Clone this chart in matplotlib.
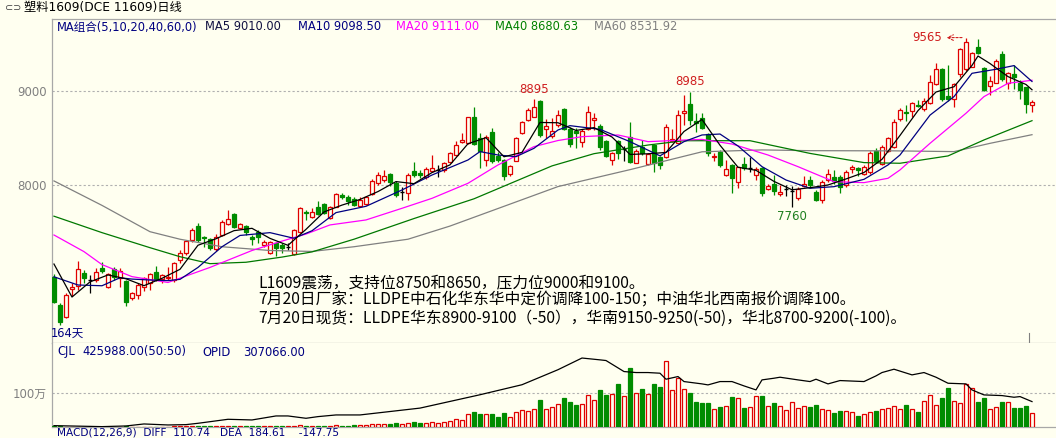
import numpy as np
import matplotlib
matplotlib.use("Agg")
import matplotlib.pyplot as plt
from matplotlib.patches import Rectangle

plt.rcParams['font.family'] = ['DejaVu Sans', 'Noto Sans CJK SC']

# ---------------- COLORS ----------------
BG = '#FFFFF0'
RED = '#E00000'
GREEN = '#008C00'
NAVY = '#000080'
GRAY = '#808080'
AXIS = '#A8A8A8'

# ---------------- DATA ----------------
opens = [7022, 6720, 6589, 6895, 6922, 7057, 6990, 6986, 7110, 6908,
         7100, 7004, 6979, 6791, 6827, 6908, 6951, 7071, 6993, 7004,
         6986, 7199, 7277, 7412, 7560, 7440, 7419, 7312, 7465, 7582,
         7685, 7536, 7560, 7440, 7500, 7358, 7270, 7383, 7358, 7340,
         7263, 7500, 7710, 7653, 7766, 7795, 7642, 7766, 7891, 7873,
         7844, 7773, 7795, 7901, 8015, 8050, 8111, 8022, 7926, 7915,
         8150, 8128, 8079, 8150, 8157, 8157, 8245, 8316, 8454, 8447,
         8717, 8493, 8263, 8564, 8306, 8263, 8114, 8256, 8554, 8689,
         8724, 8894, 8589, 8518, 8635, 8802, 8589, 8575, 8458, 8589,
         8688, 8624, 8468, 8263, 8468, 8376, 8504, 8234, 8404, 8220,
         8422, 8291, 8291, 8461, 8447, 8759, 8858, 8681, 8706, 8539,
         8291, 8351, 8103, 8209, 8032, 8220, 8174, 8103, 8174, 7951,
         8007, 7901, 7950, 7937, 7855, 7986, 8050, 7926, 7837, 8050,
         8086, 8086, 7997, 8164, 8174, 8114, 8139, 8362, 8221, 8362,
         8398, 8696, 8777, 8788, 8852, 8802, 8873, 9072, 9228, 8944,
         8908, 9178, 9228, 9256, 9469, 9238, 9050, 9086, 9391, 9079,
         9178, 9079, 9036, 8848]
highs = [7050, 6740, 6845, 6950, 7190, 7093, 7040, 7110, 7180, 7064,
         7121, 7110, 6990, 6862, 6951, 7014, 7057, 7135, 7050, 7128,
         7181, 7305, 7412, 7536, 7589, 7454, 7430, 7475, 7624, 7731,
         7695, 7596, 7571, 7465, 7518, 7412, 7405, 7394, 7376, 7376,
         7525, 7759, 7730, 7749, 7830, 7802, 7773, 7908, 7915, 7891,
         7866, 7866, 7880, 8057, 8139, 8157, 8121, 8043, 7972, 8128,
         8245, 8157, 8185, 8316, 8210, 8245, 8352, 8469, 8554, 8724,
         8823, 8547, 8529, 8600, 8352, 8277, 8210, 8504, 8681, 8813,
         8908, 8901, 8696, 8706, 8795, 8812, 8610, 8600, 8589, 8837,
         8759, 8646, 8475, 8351, 8475, 8412, 8670, 8376, 8475, 8341,
         8433, 8305, 8646, 8589, 8794, 8954, 8985, 8766, 8766, 8546,
         8334, 8369, 8263, 8220, 8192, 8291, 8291, 8185, 8192, 8007,
         8103, 7997, 7997, 7986, 7972, 8092, 8093, 7944, 8050, 8164,
         8157, 8103, 8157, 8210, 8192, 8210, 8362, 8387, 8423, 8504,
         8696, 8813, 8848, 8884, 8901, 8919, 9167, 9291, 9238, 9273,
         9079, 9451, 9565, 9416, 9547, 9256, 9157, 9334, 9426, 9203,
         9274, 9114, 9043, 8901]
lows = [6740, 6507, 6580, 6820, 6880, 6958, 6845, 6960, 7057, 6898,
        6986, 6908, 6710, 6773, 6780, 6873, 6880, 6979, 6951, 6986,
        6968, 7164, 7252, 7394, 7394, 7341, 7305, 7298, 7454, 7571,
        7536, 7525, 7465, 7358, 7376, 7341, 7263, 7240, 7277, 7305,
        7252, 7490, 7620, 7642, 7678, 7688, 7632, 7759, 7845, 7784,
        7773, 7766, 7784, 7891, 7997, 8033, 7986, 7866, 7838, 7838,
        8086, 8068, 8064, 8139, 8079, 8139, 8235, 8306, 8440, 8433,
        8423, 8174, 8199, 8235, 8245, 8050, 8093, 8249, 8540, 8678,
        8717, 8511, 8493, 8493, 8610, 8582, 8397, 8387, 8397, 8582,
        8582, 8369, 8291, 8209, 8270, 8256, 8234, 8227, 8316, 8209,
        8139, 8163, 8280, 8458, 8440, 8635, 8635, 8564, 8589, 8305,
        8256, 8192, 8093, 7908, 7962, 8156, 8139, 8050, 7880, 7944,
        7890, 7880, 7880, 7766, 7837, 7972, 7979, 7830, 7809, 8032,
        8008, 7915, 7979, 8121, 8093, 8103, 8114, 8235, 8210, 8352,
        8387, 8681, 8681, 8717, 8823, 8788, 8859, 9061, 8894, 8894,
        8823, 9150, 9213, 9249, 9391, 9001, 8954, 9079, 9107, 9015,
        9015, 8908, 8767, 8777]
closes = [6756, 6543, 6827, 6910, 7100, 7004, 6990, 7075, 7085, 7046,
          7022, 7085, 6756, 6851, 6933, 7004, 7050, 6993, 7040, 7022,
          7170, 7277, 7405, 7518, 7412, 7430, 7323, 7440, 7607, 7632,
          7553, 7578, 7500, 7419, 7440, 7394, 7394, 7323, 7323, 7340,
          7518, 7750, 7695, 7713, 7688, 7703, 7759, 7898, 7866, 7830,
          7784, 7837, 7866, 8043, 8103, 8093, 8033, 7891, 7926, 8103,
          8103, 8103, 8164, 8174, 8157, 8228, 8334, 8423, 8476, 8717,
          8433, 8362, 8511, 8256, 8263, 8093, 8199, 8494, 8671, 8795,
          8823, 8529, 8625, 8575, 8742, 8589, 8433, 8546, 8575, 8777,
          8706, 8404, 8305, 8341, 8341, 8376, 8245, 8362, 8334, 8327,
          8234, 8209, 8610, 8482, 8741, 8787, 8688, 8653, 8600, 8334,
          8305, 8209, 8163, 8067, 8185, 8174, 8174, 8163, 7915, 7986,
          7936, 7919, 7950, 7937, 7950, 8007, 7997, 7837, 8032, 8114,
          8043, 7979, 8139, 8185, 8157, 8192, 8341, 8256, 8405, 8493,
          8671, 8795, 8766, 8873, 8837, 8894, 9096, 9228, 8908, 8908,
          9072, 9440, 9522, 9405, 9405, 9008, 9107, 9320, 9121, 9192,
          9150, 9008, 8859, 8884]

# volume, unit: 万
volume = [3, 3, 2, 2, 2, 1, 1, 2, 1, 1,
          1, 2, 3, 2, 2, 2, 2, 2, 2, 2,
          3, 3, 3, 4, 4, 3, 3, 3, 4, 4,
          4, 4, 3, 3, 3, 3, 3, 4, 3, 3,
          5, 6, 4, 4, 4, 5, 5, 6, 5, 5,
          6, 6, 6, 9, 10, 9, 10, 12, 10, 14,
          15, 12, 14, 16, 14, 16, 20, 24, 22, 40,
          45, 40, 38, 40, 30, 42, 30, 45, 50, 48,
          55, 80, 55, 60, 70, 85, 75, 65, 70, 95,
          80, 110, 95, 98, 127, 92, 173, 100, 112, 98,
          127, 118, 195, 110, 144, 112, 102, 75, 72, 72,
          53, 61, 63, 90, 85, 58, 59, 92, 92, 63,
          72, 63, 51, 74, 58, 63, 61, 66, 53, 51,
          43, 48, 48, 45, 33, 39, 46, 48, 54, 56,
          63, 54, 66, 54, 46, 77, 95, 66, 85, 115,
          77, 72, 126, 115, 75, 85, 54, 59, 75, 75,
          58, 58, 63, 41]

# open interest (own scale)
oi_idx = [0, 8, 12, 15, 19, 22, 24, 29, 33, 37, 39, 42, 44, 47, 51, 61, 71, 78, 84, 88,
          91, 92, 95, 97, 99, 101, 102, 104, 105, 108, 109, 111, 113, 115, 117, 118, 120,
          121, 124, 126, 127, 129, 131, 135, 137, 138, 140, 143, 145, 147, 149, 152, 153,
          155, 158, 160, 161, 163]
oi_val = [2.0, 0.8, 1.6, 4.0, 2.8, 3.2, 4.8, 9.6, 8.8, 13.6, 13.6, 10.8, 12.8, 14.8, 14.8,
          23, 39, 51, 69, 83, 80.8, 80, 66.8, 65.6, 65.6, 64.8, 57.6, 60.8, 54.8, 52,
          50.8, 54.8, 54.8, 49.6, 44.8, 56.8, 58.8, 60, 56.8, 54.8, 57.6, 52, 56, 54.8,
          61.6, 65.6, 69.6, 62.8, 65.6, 60, 52.8, 52, 44.8, 38.8, 38, 36, 36.8, 30.8]

ma5_idx = [0, 3, 6, 9, 12, 15, 18, 21, 24, 27, 30, 33, 36, 39, 42, 45, 48, 51, 54, 57,
           60, 63, 66, 69, 72, 75, 78, 81, 84, 87, 90, 93, 96, 99, 102, 105, 108, 111,
           114, 117, 120, 123, 126, 129, 132, 135, 138, 141, 144, 147, 150, 153, 154,
           156, 159, 162, 163]
ma5_val = [7156, 6805, 6966, 7040, 6999, 6926, 7004, 7100, 7356, 7425, 7511, 7536, 7429,
           7355, 7525, 7710, 7783, 7843, 7927, 8033, 8011, 8129, 8211, 8436, 8500, 8297,
           8344, 8662, 8659, 8577, 8607, 8507, 8322, 8329, 8343, 8566, 8694, 8420, 8186,
           8153, 8035, 7946, 7968, 7997, 8061, 8130, 8270, 8524, 8788, 8986, 9042, 9269,
           9369, 9289, 9150, 9066, 9010]
ma10_idx = [0, 4, 8, 11, 13, 16, 19, 21, 24, 28, 31, 36, 40, 43, 47, 52, 58, 63, 69, 71,
            74, 77, 80, 84, 86, 91, 96, 101, 105, 108, 111, 114, 118, 122, 126, 130, 135,
            139, 141, 146, 150, 153, 157, 160, 163]
ma10_val = [7020, 6933, 6925, 7010, 6996, 6986, 6980, 6993, 7120, 7340, 7460, 7490, 7430,
            7510, 7703, 7770, 7944, 8103, 8263, 8352, 8316, 8298, 8387, 8582, 8628, 8589,
            8458, 8307, 8458, 8529, 8539, 8412, 8192, 8050, 7962, 7979, 8057, 8210, 8316,
            8740, 8937, 9185, 9228, 9267, 9098]
ma20_idx = [0, 5, 8, 13, 19, 26, 33, 38, 42, 46, 52, 58, 63, 69, 74, 80, 84, 88, 94, 99,
            105, 108, 113, 119, 124, 130, 135, 139, 141, 146, 152, 155, 159, 163]
ma20_val = [7465, 7288, 7150, 7022, 6960, 7120, 7300, 7400, 7475, 7572, 7625, 7749, 7855,
            8015, 8210, 8405, 8470, 8511, 8529, 8458, 8475, 8482, 8433, 8316, 8192, 8032,
            8022, 8068, 8157, 8440, 8760, 8937, 9079, 9111]
ma40_idx = [0, 8, 16, 21, 26, 32, 38, 43, 50, 60, 70, 83, 90, 99, 105, 116, 121, 126, 135,
            141, 149, 155, 163]
ma40_val = [7665, 7490, 7330, 7234, 7160, 7175, 7230, 7285, 7420, 7640, 7850, 8200, 8330,
            8422, 8468, 8468, 8400, 8333, 8235, 8228, 8306, 8476, 8681]
ma60_idx = [0, 8, 16, 21, 28, 36, 43, 50, 59, 66, 72, 84, 96, 108, 118, 126, 140, 150,
            156, 163]
ma60_val = [8040, 7780, 7500, 7420, 7340, 7300, 7290, 7340, 7420, 7560, 7700, 7980, 8160,
            8350, 8370, 8362, 8360, 8352, 8440, 8532]

# ---------------- FIGURE ----------------
W, H = 1056, 438
fig = plt.figure(figsize=(W / 100, H / 100), dpi=100, facecolor=BG)
ax = fig.add_axes([52 / W, 1 - 343 / H, 1004 / W, (343 - 18.5) / H], facecolor=BG)
axv = fig.add_axes([52 / W, 1 - 427.3 / H, 1004 / W, (427.3 - 343) / H], facecolor=BG)

n = len(closes)
bw = 0.68

# ---------------- CANDLES ----------------
for i in range(n):
    o, h, l, c = opens[i], highs[i], lows[i], closes[i]
    if c > o:
        col = RED
    elif c < o:
        col = GREEN
    else:
        col = 'black'
    ax.vlines(i, l, h, color=col, lw=0.9, zorder=2)
    if c == o:
        ax.hlines(c, i - bw / 2, i + bw / 2, color=col, lw=1.0, zorder=3)
    else:
        face = BG if c > o else GREEN
        ax.add_patch(Rectangle((i - bw / 2, min(o, c)), bw, abs(c - o),
                               facecolor=face, edgecolor=col, lw=0.9, zorder=3))

# ---------------- MOVING AVERAGES ----------------
ax.plot(ma60_idx, ma60_val, color=GRAY, lw=0.9, zorder=4)
ax.plot(ma40_idx, ma40_val, color='#007800', lw=0.9, zorder=4)
ax.plot(ma20_idx, ma20_val, color='#FF00FF', lw=0.9, zorder=4)
ax.plot(ma10_idx, ma10_val, color=NAVY, lw=0.9, zorder=4)
ax.plot(ma5_idx, ma5_val, color='black', lw=0.9, zorder=4)

ax.set_xlim(-0.33, 167)
ax.set_ylim(6316, 9768)
ax.set_xticks([])
ax.set_yticks([8000, 9000])
ax.set_yticklabels(['8000', '9000'])
ax.tick_params(axis='y', length=0, pad=4, labelsize=8.5, labelcolor=GRAY)
for lv in [8000, 9000]:
    ax.axhline(lv, color='#B0B0B0', lw=0.8, ls=(0, (2, 2)), zorder=1)
ax.spines['right'].set_visible(False)
for s in ['left', 'top', 'bottom']:
    ax.spines[s].set_color(AXIS)
    ax.spines[s].set_linewidth(0.9)
ax.axvline(162.5, ymin=0, ymax=10 / 324.5, color=GRAY, lw=0.8)

# price labels
ax.text(80, highs[80] + 40, '8895', color='#D02020', fontsize=8.5, ha='center', va='bottom')
ax.text(106, highs[106] + 40, '8985', color='#D02020', fontsize=8.5, ha='center', va='bottom')
ax.text(148, 9565, '9565', color='#D02020', fontsize=8.5, ha='right', va='center')
ax.annotate('', xy=(148.3, 9565), xytext=(151.8, 9565),
            arrowprops=dict(arrowstyle='->', color='#D02020', lw=0.8, ls=(0, (2, 1.5))))
ax.text(123, lows[123] - 30, '7760', color='#208020', fontsize=8.5, ha='center', va='top')

# comment text
notes = ['L1609震荡，支持位8750和8650，压力位9000和9100。',
         '7月20日厂家：LLDPE中石化华东华中定价调降100-150；中油华北西南报价调降100。',
         '7月20日现货：LLDPE华东8900-9100（-50），华南9150-9250(-50)，华北8700-9200(-100)。']
for k, t in enumerate(notes):
    fig.text(258 / W, 1 - (283 + 17.5 * k) / H, t, fontsize=11.3, color='black',
             family=['Noto Sans CJK SC', 'DejaVu Sans'], ha='left', va='center')

# ---------------- VOLUME ----------------
for i in range(n):
    up = closes[i] >= opens[i]
    col = RED if up else GREEN
    face = BG if up else GREEN
    axv.add_patch(Rectangle((i - bw / 2, 0), bw, volume[i],
                            facecolor=face, edgecolor=col, lw=0.9, zorder=3))
axv.set_xlim(-0.33, 167)
axv.set_ylim(0, 248)
axv.set_xticks([])
axv.set_yticks([100])
axv.set_yticklabels(['100万'])
axv.tick_params(axis='y', length=0, pad=4, labelsize=8.5, labelcolor=GRAY)
axv.axhline(100, color='#B0B0B0', lw=0.8, ls=(0, (2, 2)), zorder=1)
axv.spines['right'].set_visible(False)
axv.spines['top'].set_visible(False)
for s in ['left', 'bottom']:
    axv.spines[s].set_color(AXIS)
    axv.spines[s].set_linewidth(0.9)

axo = axv.twinx()
axo.plot(oi_idx, oi_val, color='black', lw=0.9, zorder=5)
axo.set_ylim(0, 101)
axo.set_xlim(-0.33, 167)
axo.set_yticks([])
for s in axo.spines.values():
    s.set_visible(False)

# ---------------- HEADER TEXTS ----------------
def ftext(px, py, s, color, size=8.3, **kw):
    fig.text(px / W, 1 - py / H, s, color=color, fontsize=size, ha='left', va='center', **kw)

ftext(5, 8, '⊂⊃', '#404040', size=7)
ftext(24, 8, '塑料1609(DCE 11609)日线', 'black', size=8.8)
ftext(57, 27, 'MA组合(5,10,20,40,60,0)', NAVY)
ftext(205, 27, 'MA5 9010.00', '#101040')
ftext(298, 27, 'MA10 9098.50', NAVY)
ftext(396, 27, 'MA20 9111.00', '#FF00FF')
ftext(495, 27, 'MA40 8680.63', '#008000')
ftext(594, 27, 'MA60 8531.92', GRAY)
ftext(51, 333, '164天', NAVY, size=8.3)
ftext(57, 352, 'CJL', NAVY)
ftext(82, 352, '425988.00(50:50)', NAVY)
ftext(202, 352, 'OPID', NAVY)
ftext(243, 352, '307066.00', NAVY)
fig.text(57 / W, 1 - 427.6 / H, 'MACD(12,26,9)  DIFF  110.74   DEA  184.61    -147.75',
         color=NAVY, fontsize=7.6, ha='left', va='top')

fig.savefig('out.png', dpi=100, facecolor=BG)
